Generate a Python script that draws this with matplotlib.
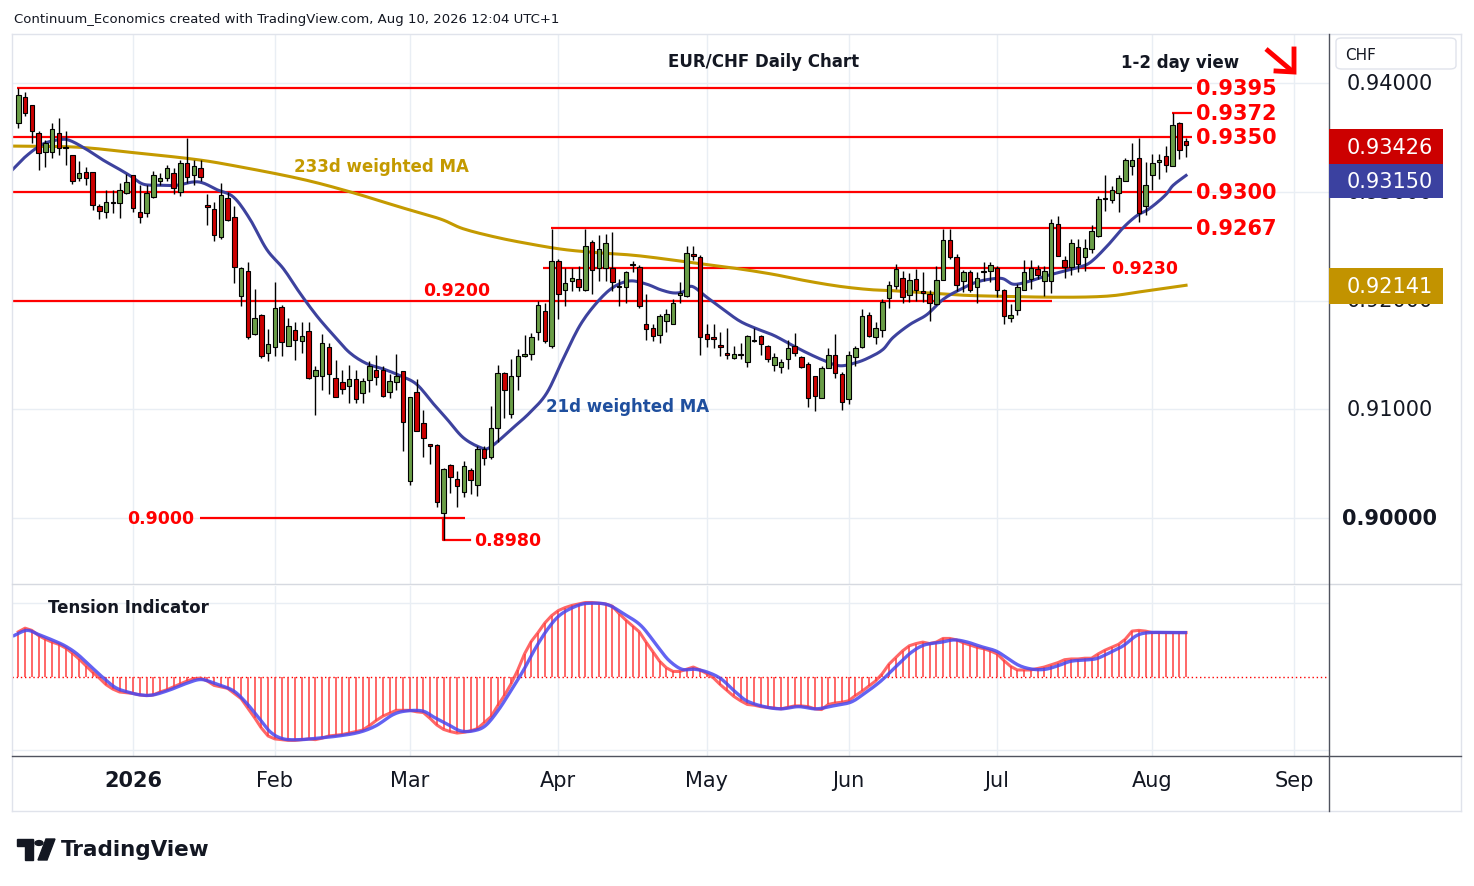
#!/usr/bin/env python3
"""EUR/CHF daily candlestick chart with weighted MAs and tension indicator."""

import numpy as np
import pandas as pd
import matplotlib
matplotlib.use("Agg")
import matplotlib.pyplot as plt
from matplotlib.patches import Rectangle, FancyBboxPatch, Circle, Polygon
from matplotlib.lines import Line2D

W, H = 1474, 887

# ---- data (prices x 10000) ----
opens = [9363, 9387, 9380, 9354, 9337, 9337, 9354, 9341, 9334, 9313, 9318, 9318, 9287, 9281, 9291, 9290, 9299, 9315, 9281, 9280,
         9295, 9310, 9313, 9317, 9300, 9326, 9315, 9322, 9288, 9284, 9258, 9294, 9277, 9204, 9227, 9169, 9187, 9152, 9157, 9194,
         9158, 9173, 9163, 9172, 9131, 9131, 9157, 9129, 9125, 9121, 9128, 9115, 9127, 9136, 9136, 9116, 9125, 9135, 9034, 9116,
         9087, 9068, 9067, 9005, 9049, 9036, 9024, 9044, 9030, 9063, 9056, 9083, 9133, 9096, 9131, 9149, 9151, 9171, 9190, 9158,
         9236, 9210, 9218, 9220, 9210, 9254, 9230, 9230, 9230, 9213, 9212, 9233, 9231, 9178, 9175, 9168, 9181, 9178, 9205, 9204,
         9243, 9240, 9169, 9166, 9159, 9152, 9147, 9151, 9143, 9163, 9167, 9158, 9141, 9139, 9146, 9158, 9148, 9142, 9131, 9110,
         9138, 9150, 9132, 9109, 9148, 9157, 9187, 9166, 9173, 9202, 9213, 9221, 9205, 9220, 9209, 9206, 9197, 9219, 9256, 9240,
         9218, 9226, 9212, 9226, 9227, 9230, 9210, 9184, 9191, 9210, 9220, 9229, 9218, 9218, 9270, 9237, 9231, 9249, 9240, 9247,
         9259, 9293, 9292, 9299, 9310, 9324, 9331, 9287, 9315, 9327, 9333, 9324, 9363, 9347]
highs = [9395, 9392, 9380, 9356, 9348, 9363, 9368, 9356, 9334, 9328, 9323, 9318, 9289, 9302, 9302, 9308, 9316, 9315, 9306, 9306,
         9319, 9317, 9325, 9322, 9329, 9349, 9329, 9329, 9298, 9291, 9308, 9300, 9287, 9231, 9235, 9211, 9188, 9174, 9217, 9196,
         9184, 9180, 9180, 9180, 9140, 9169, 9161, 9145, 9136, 9141, 9136, 9129, 9144, 9150, 9140, 9132, 9151, 9135, 9111, 9128,
         9099, 9068, 9068, 9046, 9050, 9043, 9052, 9046, 9066, 9066, 9103, 9141, 9134, 9146, 9155, 9168, 9170, 9200, 9198, 9266,
         9238, 9230, 9230, 9232, 9266, 9256, 9260, 9261, 9263, 9220, 9227, 9236, 9233, 9206, 9178, 9188, 9192, 9201, 9217, 9250,
         9250, 9242, 9178, 9178, 9171, 9175, 9158, 9161, 9168, 9175, 9168, 9159, 9152, 9146, 9164, 9170, 9149, 9143, 9131, 9140,
         9156, 9169, 9134, 9154, 9158, 9192, 9189, 9180, 9201, 9218, 9234, 9227, 9225, 9229, 9226, 9210, 9232, 9266, 9266, 9243,
         9228, 9228, 9226, 9235, 9235, 9232, 9211, 9197, 9215, 9237, 9237, 9233, 9232, 9275, 9278, 9241, 9257, 9257, 9257, 9269,
         9296, 9315, 9305, 9315, 9331, 9345, 9349, 9327, 9335, 9335, 9342, 9372, 9364, 9349]
lows = [9359, 9370, 9345, 9320, 9323, 9331, 9334, 9325, 9307, 9310, 9306, 9283, 9275, 9276, 9280, 9276, 9298, 9281, 9271, 9277,
        9294, 9306, 9310, 9298, 9296, 9308, 9306, 9310, 9269, 9255, 9257, 9273, 9216, 9195, 9165, 9168, 9147, 9144, 9149, 9149,
        9158, 9145, 9152, 9128, 9095, 9118, 9114, 9111, 9114, 9106, 9106, 9106, 9116, 9122, 9111, 9110, 9118, 9062, 9030, 9080,
        9056, 9050, 9010, 8980, 9023, 9010, 9019, 9022, 9020, 9049, 9054, 9070, 9092, 9092, 9118, 9148, 9145, 9164, 9161, 9156,
        9183, 9195, 9209, 9209, 9209, 9206, 9218, 9218, 9209, 9195, 9198, 9226, 9193, 9164, 9163, 9161, 9171, 9178, 9198, 9203,
        9237, 9150, 9157, 9156, 9149, 9146, 9146, 9146, 9139, 9162, 9150, 9143, 9135, 9133, 9137, 9149, 9138, 9102, 9098, 9110,
        9138, 9129, 9099, 9105, 9140, 9156, 9166, 9160, 9166, 9193, 9211, 9198, 9199, 9200, 9199, 9181, 9196, 9219, 9238, 9209,
        9208, 9208, 9198, 9218, 9217, 9203, 9178, 9180, 9187, 9210, 9211, 9220, 9204, 9207, 9241, 9221, 9223, 9226, 9227, 9244,
        9258, 9282, 9290, 9281, 9310, 9315, 9272, 9279, 9302, 9312, 9318, 9324, 9330, 9332]
closes = [9389, 9372, 9356, 9336, 9345, 9358, 9340, 9340, 9310, 9317, 9313, 9288, 9282, 9291, 9290, 9302, 9309, 9285, 9277, 9299,
          9315, 9313, 9322, 9303, 9326, 9314, 9324, 9314, 9286, 9260, 9297, 9274, 9231, 9230, 9166, 9184, 9149, 9160, 9193, 9162,
          9177, 9164, 9167, 9129, 9136, 9161, 9132, 9111, 9119, 9128, 9109, 9126, 9140, 9130, 9112, 9126, 9131, 9088, 9111, 9080,
          9074, 9066, 9015, 9045, 9038, 9029, 9048, 9035, 9063, 9055, 9083, 9133, 9118, 9131, 9149, 9151, 9166, 9196, 9163, 9236,
          9206, 9216, 9221, 9212, 9250, 9228, 9247, 9253, 9217, 9212, 9226, 9234, 9195, 9174, 9167, 9186, 9188, 9198, 9207, 9244,
          9241, 9166, 9165, 9165, 9157, 9150, 9151, 9150, 9167, 9163, 9160, 9146, 9148, 9143, 9156, 9152, 9139, 9110, 9112, 9138,
          9150, 9133, 9107, 9150, 9156, 9186, 9167, 9175, 9199, 9214, 9229, 9203, 9219, 9210, 9207, 9198, 9219, 9256, 9240, 9214,
          9226, 9210, 9221, 9226, 9233, 9210, 9186, 9187, 9212, 9226, 9230, 9223, 9227, 9271, 9241, 9231, 9253, 9234, 9248, 9264,
          9293, 9293, 9302, 9313, 9329, 9329, 9280, 9306, 9326, 9329, 9325, 9361, 9338, 9342.6]

# weighted moving averages at bar positions
ma21_x = [-0.9, 1.2, 3.7, 6.2, 7.7, 10.1, 12.6, 14.6, 16.5, 18.5, 21.0, 23.5, 25.9, 27.4, 29.4, 31.9, 34.3, 36.8, 39.3, 41.7,
          44.2, 46.7, 49.1, 51.6, 54.1, 56.5, 59.0, 61.5, 63.5, 65.9, 68.4, 69.9, 73.3, 75.8, 78.3, 80.7, 83.2, 85.7, 88.1, 90.6,
          93.1, 95.1, 97.0, 98.5, 99.8, 102.0, 104.4, 106.9, 109.4, 111.9, 114.3, 116.8, 119.3, 121.7, 124.2, 126.2, 128.1, 129.6,
          132.1, 134.6, 137.0, 139.5, 142.0, 144.4, 145.9, 147.4, 149.4, 151.9, 154.3, 156.8, 158.8, 161.3, 163.7, 165.7, 167.2,
          168.7, 170.1, 171.1, 173.0]
ma21_v = [9320, 9333, 9344, 9348, 9347, 9339, 9329, 9322, 9315, 9307, 9306, 9306, 9309, 9308, 9302, 9295, 9275, 9247, 9229, 9207,
          9186, 9168, 9152, 9142, 9137, 9131, 9123, 9105, 9091, 9074, 9065, 9065, 9083, 9097, 9115, 9146, 9177, 9198, 9212, 9218,
          9215, 9210, 9207, 9208, 9213, 9203, 9192, 9181, 9174, 9168, 9160, 9152, 9145, 9140, 9143, 9148, 9155, 9166, 9178, 9187,
          9201, 9210, 9217, 9220, 9220, 9215, 9217, 9222, 9226, 9230, 9235, 9250, 9267, 9278, 9283, 9290, 9298, 9306, 9315]
ma233_x = [-0.9, 8.7, 17.0, 25.9, 31.9, 41.7, 49.1, 56.5, 62.5, 65.9, 70.9, 75.8, 80.7, 85.7, 92.1, 102.0, 106.9, 111.9,
           116.8, 121.7, 126.2, 129.6, 134.6, 139.5, 144.4, 154.3, 161.3, 166.2, 173.0]
ma233_v = [9342, 9341, 9336, 9330, 9324, 9312, 9300, 9286, 9275, 9266, 9258, 9252, 9247, 9244, 9241, 9233, 9229, 9224, 9218,
           9213, 9210, 9209, 9207, 9205, 9204, 9203, 9204, 9208, 9214]

# tension indicator histogram (one value per bar) and its signal line
tension = [62, 67, 64, 57, 52, 48, 45, 40, 33, 25, 16, 7, -1, -10, -16, -20, -21, -22, -24, -25,
           -24, -20, -17, -13, -9, -5, -2, -1, -5, -11, -13, -15, -22, -29, -42, -55, -69, -80, -84, -85,
           -86, -86, -85, -84, -85, -83, -80, -79, -78, -76, -74, -72, -66, -59, -53, -49, -45, -45, -45, -47,
           -48, -56, -65, -71, -74, -76, -75, -73, -70, -62, -54, -39, -25, -9, 10, 32, 49, 61, 74, 84,
           91, 95, 98, 100, 102, 102, 101, 100, 97, 87, 78, 70, 62, 48, 35, 22, 13, 8, 8, 11,
           14, 10, 5, -1, -10, -18, -26, -32, -37, -38, -40, -41, -42, -43, -41, -39, -39, -40, -43, -44,
           -37, -35, -34, -32, -25, -19, -12, -5, 5, 18, 27, 36, 43, 46, 48, 46, 48, 53, 53, 51,
           47, 44, 41, 39, 36, 32, 23, 15, 10, 10, 10, 12, 14, 17, 20, 24, 25, 25, 26, 26,
           32, 37, 41, 45, 52, 63, 64, 63, 61, 61, 61, 61, 61, 61]
sig_x = [-0.6, 1.3, 3.1, 5.0, 6.9, 8.7, 10.6, 12.5, 14.4, 16.2, 18.1, 20.0, 22.5, 25.0, 27.1, 29.3, 31.8, 33.7, 35.6, 37.4,
         39.3, 41.8, 44.3, 47.4, 50.5, 53.0, 55.5, 57.4, 59.9, 61.7, 63.6, 65.5, 67.4, 69.2, 71.1, 73.0, 74.8, 76.7, 78.6, 80.4,
         82.9, 84.8, 87.3, 89.8, 92.3, 94.8, 96.4, 98.3, 100.2, 102.1, 104.1, 106.0, 107.9, 110.5, 113.0, 115.6, 118.2, 120.7,
         123.3, 125.2, 127.8, 130.4, 132.3, 134.2, 136.8, 138.7, 140.6, 142.6, 144.8, 146.4, 148.3, 150.3, 152.2, 154.1, 156.0,
         158.6, 159.9, 161.8, 163.7, 165.7, 167.6, 170.2, 172.9]
sig_v = [57, 64, 58, 51, 43, 32, 16, 0, -14, -20, -24, -24, -17, -8, -3, -9, -18, -34, -55, -75,
         -84, -85, -83, -80, -75, -66, -51, -46, -46, -55, -64, -73, -73, -66, -45, -18, 9, 41, 68, 86,
         98, 101, 99, 86, 70, 41, 23, 11, 11, 7, -2, -18, -32, -40, -43, -40, -43, -39, -34, -23,
         -5, 18, 34, 44, 48, 51, 48, 42, 36, 27, 16, 11, 11, 16, 22, 24, 26, 34, 43, 57, 61, 61, 61]

levels_major = [0.9395, 0.9372, 0.9350, 0.9300, 0.9267]
last_price, last_ma21, last_ma233 = 0.93426, 0.93150, 0.92141

# trading days (FX, Christmas and New Year skipped)
days = pd.bdate_range("2025-12-08", "2026-09-30")
days = days[~days.isin(pd.to_datetime(["2025-12-25", "2026-01-01"]))]

o = np.array(opens) / 1e4
h = np.array(highs) / 1e4
l = np.array(lows) / 1e4
c = np.array(closes) / 1e4
n = len(c)
idx = np.arange(n)

GREEN = "#6a9e47"
RED = "#cc0000"
BLUE_MA = "#3d429e"
GOLD = "#c49a00"
GRID = "#e9eef4"
TXT = "#131722"


def fx(px):
    return px / W


def fy(py):
    return 1 - py / H


def xi(px):
    # pixel column -> bar index
    return (px - 18.3) / 6.75


def smooth(xs, ys, k=8):
    # Catmull-Rom curve through the read points, for drawing only
    pts = np.column_stack([xs, ys]).astype(float)
    P = np.vstack([pts[0], pts, pts[-1]])
    out = []
    for i in range(1, len(P) - 2):
        p0, p1, p2, p3 = P[i - 1], P[i], P[i + 1], P[i + 2]
        for t in np.linspace(0, 1, k, endpoint=False):
            out.append(0.5 * (2 * p1 + (p2 - p0) * t + (2 * p0 - 5 * p1 + 4 * p2 - p3) * t ** 2
                              + (3 * p1 - p0 - 3 * p2 + p3) * t ** 3))
    out.append(P[-2])
    out = np.array(out)
    return out[:, 0], out[:, 1]


fig = plt.figure(figsize=(W / 100, H / 100), dpi=100)
fig.patch.set_facecolor("white")

ax = fig.add_axes([fx(12), fy(585), (1329 - 12) / W, (585 - 35) / H])
ax2 = fig.add_axes([fx(12), fy(757), (1329 - 12) / W, (757 - 587) / H])
for a in (ax, ax2):
    a.set_xlim(xi(12), xi(1329))
    a.set_xticks([])
    a.set_yticks([])
    for s in a.spines.values():
        s.set_visible(False)
ax.set_ylim(0.9 - 66 / 10875, 0.94 + 49 / 10875)
ax2.set_ylim(-107.3, 124.5)

# month grid
month_pos, month_lab = [], []
for i in range(1, len(days)):
    if days[i].month != days[i - 1].month:
        month_pos.append(i)
        month_lab.append("2026" if days[i].month == 1 else days[i].strftime("%b"))
for p in month_pos:
    ax.axvline(p, color=GRID, lw=1, zorder=0)
    ax2.axvline(p, color=GRID, lw=1, zorder=0)
for yv in [0.90, 0.91, 0.92, 0.93, 0.94]:
    ax.axhline(yv, color=GRID, lw=1, zorder=0)
for yv in [101, -99]:
    ax2.axhline(yv, color=GRID, lw=1, zorder=0)

# red support / resistance lines
ax.hlines(0.9395, xi(17), xi(1192), color="red", lw=1.6, zorder=1)
ax.hlines(0.9372, xi(1172), xi(1192), color="red", lw=1.6, zorder=1)
ax.hlines(0.9350, xi(12), xi(1192), color="red", lw=1.6, zorder=1)
ax.hlines(0.9300, xi(12), xi(1192), color="red", lw=1.6, zorder=1)
ax.hlines(0.9267, xi(551), xi(1192), color="red", lw=1.6, zorder=1)
ax.hlines(0.9230, xi(543), xi(1105), color="red", lw=1.6, zorder=1)
ax.hlines(0.9200, xi(12), xi(1052), color="red", lw=1.6, zorder=1)
ax.hlines(0.9000, xi(200), xi(465), color="red", lw=1.6, zorder=1)
ax.plot([xi(443), xi(443), xi(470)], [0.9000, 0.8980, 0.8980], color="red", lw=1.6, zorder=1)

# moving averages
mx, my = smooth(ma233_x, np.array(ma233_v) / 1e4)
ax.plot(mx, my, color=GOLD, lw=2.2, zorder=2)
mx, my = smooth(ma21_x, np.array(ma21_v) / 1e4)
ax.plot(mx, my, color=BLUE_MA, lw=2.2, zorder=2)

# candles
up = c >= o
cols = np.where(up, GREEN, RED)
ax.vlines(idx, l, h, color="black", lw=1.0, zorder=3)
body_lo = np.minimum(o, c)
body_h = np.maximum(np.abs(c - o), 0.00008)
ax.bar(idx, body_h, bottom=body_lo, width=0.66, color=cols, edgecolor="black", lw=0.8, zorder=4)

# level labels
lab_kw = dict(color="red", fontsize=15, fontweight="bold", va="center", ha="left")
for lv in levels_major:
    ax.text(xi(1196), lv, f"{lv:.4f}", **lab_kw)
small_kw = dict(color="red", fontsize=12.5, fontweight="bold", va="center")
ax.text(xi(1111), 0.9230, "0.9230", ha="left", **small_kw)
ax.text(xi(423), 0.92097, "0.9200", ha="left", **small_kw)
ax.text(xi(194), 0.9000, "0.9000", ha="right", **small_kw)
ax.text(xi(474), 0.8980, "0.8980", ha="left", **small_kw)

ax.text(xi(294), 0.93237, "233d weighted MA", color=GOLD, fontsize=12, fontweight="bold", va="center", ha="left")
ax.text(xi(546), 0.91030, "21d weighted MA", color="#1f4f9e", fontsize=12, fontweight="bold", va="center", ha="left")

fig.text(fx(764), fy(62), "EUR/CHF Daily Chart", fontsize=12, fontweight="bold", color=TXT, ha="center", va="center")
fig.text(fx(1180), fy(63), "1-2 day view", fontsize=12, fontweight="bold", color=TXT, ha="center", va="center")
fig.add_artist(Line2D([fx(1266), fx(1292)], [fy(50), fy(72)], color="red", lw=3.5, solid_capstyle="butt"))
fig.add_artist(Line2D([fx(1276), fx(1294), fx(1294)], [fy(72), fy(73), fy(50)], color="red", lw=3.5,
                      solid_joinstyle="miter"))

# price scale
ytr = ax.get_yaxis_transform()
for yv in [0.94, 0.91, 0.93, 0.92]:
    ax.text(1.0463, yv, f"{yv:.5f}", transform=ytr, fontsize=15, color=TXT, ha="center", va="center", clip_on=False)
ax.text(1.0463, 0.90, "0.90000", transform=ytr, fontsize=15, fontweight="bold", color=TXT, ha="center", va="center",
        clip_on=False)


def badge(y0, y1, color, text):
    fig.add_artist(Rectangle((fx(1329), fy(y1)), (1443 - 1329) / W, (y1 - y0) / H, transform=fig.transFigure,
                             facecolor=color, edgecolor="none", zorder=5))
    fig.text(fx(1390), fy((y0 + y1) / 2), text, fontsize=15, color="white", ha="center", va="center", zorder=6)


badge(130, 165, "#cc0000", f"{last_price:.5f}")
badge(165, 199, "#3b41a0", f"{last_ma21:.5f}")
badge(269, 305, "#c29300", f"{last_ma233:.5f}")

fig.add_artist(FancyBboxPatch((fx(1336), fy(70)), (1456 - 1336) / W, (70 - 39) / H, transform=fig.transFigure,
                              boxstyle="round,pad=0,rounding_size=0.004", facecolor="white", edgecolor="#e0e3eb", lw=1))
fig.text(fx(1345), fy(55), "CHF", fontsize=11, color=TXT, ha="left", va="center")

# tension indicator
t = np.array(tension)
ax2.axhline(0, color="red", lw=1, ls=(0, (1, 2)), zorder=1)
ax2.vlines(idx, 0, t, color="#ff4040", lw=1.3, alpha=0.85, zorder=2)
ax2.plot(idx, t, color="#ff4040", lw=2.2, alpha=0.8, zorder=3)
sx, sy = smooth(sig_x, sig_v)
ax2.plot(sx, sy, color="#4848f0", lw=2.4, alpha=0.85, zorder=4)
ax2.text(xi(48), 96, "Tension Indicator", fontsize=12, fontweight="bold", color=TXT, ha="left", va="center")

# time axis labels
xtr = ax2.get_xaxis_transform()
for p, lab in zip(month_pos, month_lab):
    ax2.text(p, -0.141, lab, transform=xtr, fontsize=15, color=TXT, ha="center", va="center", clip_on=False,
             fontweight="bold" if lab == "2026" else "normal")


# frame lines
def hline_px(y, x0, x1, color, lw=1):
    fig.add_artist(Line2D([fx(x0), fx(x1)], [fy(y), fy(y)], color=color, lw=lw))


def vline_px(x, y0, y1, color, lw=1):
    fig.add_artist(Line2D([fx(x), fx(x)], [fy(y0), fy(y1)], color=color, lw=lw))


hline_px(35, 12, 1461, "#e0e3eb")
hline_px(812, 12, 1461, "#e0e3eb")
vline_px(12, 35, 812, "#e0e3eb")
vline_px(1461, 35, 812, "#e0e3eb")
hline_px(585, 12, 1461, "#d6d9e0")
hline_px(757, 12, 1461, "#50535e")
vline_px(1329, 35, 812, "#50535e")

# header and logo
fig.text(fx(14), fy(19), "Continuum_Economics created with TradingView.com, Aug 10, 2026 12:04 UTC+1",
         fontsize=9.5, color=TXT, ha="left", va="center")
fig.add_artist(Rectangle((fx(17), fy(847)), 16 / W, 7 / H, transform=fig.transFigure, color=TXT))
fig.add_artist(Rectangle((fx(25), fy(861)), 8 / W, 20 / H, transform=fig.transFigure, color=TXT))
fig.add_artist(Circle((fx(39), fy(844)), 4 / W, transform=fig.transFigure, color=TXT))
fig.add_artist(Polygon([(fx(38), fy(861)), (fx(46), fy(840)), (fx(55), fy(840)), (fx(47), fy(861))],
                       closed=True, transform=fig.transFigure, color=TXT))
fig.text(fx(61), fy(850), "TradingView", fontsize=15.5, fontweight="bold", color=TXT, ha="left", va="center")

fig.savefig("out.png", dpi=100)
